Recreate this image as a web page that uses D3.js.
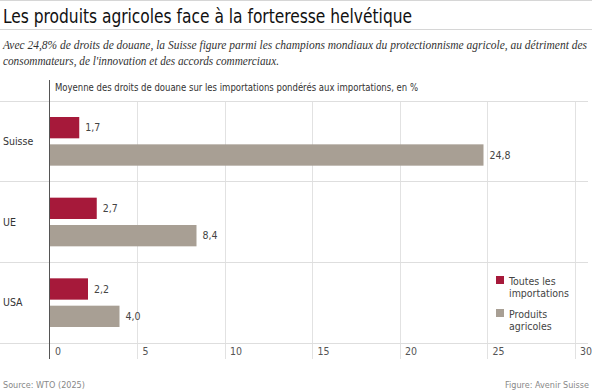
<!DOCTYPE html>
<html>
<head>
<meta charset="utf-8">
<script src="https://cdn.jsdelivr.net/npm/d3@7"></script>
<style>
  body { margin: 0; background: #fff; }
  svg { display: block; }
  .cond { font-family: 'Liberation Sans Narrow', 'DejaVu Sans Condensed', sans-serif; }
</style>
</head>
<body>
<svg id="chart" width="592" height="392"></svg>
<script>
// data
const countries = ["Suisse", "UE", "USA"];
const seriesNames = ["Toutes les importations", "Produits agricoles"];
const allImports = [1.7, 2.7, 2.2];
const agriProducts = [24.8, 8.4, 4.0];
const xTicks = [0, 5, 10, 15, 20, 25, 30];

const colors = ["#a6193a", "#a89f94"];

const svg = d3.select("#chart");
const width = 592, height = 392;

// header lines
svg.append("line").attr("x1", 0).attr("x2", width).attr("y1", 0.5).attr("y2", 0.5)
  .attr("stroke", "#d6d6d6");
svg.append("line").attr("x1", 0).attr("x2", width).attr("y1", 29.5).attr("y2", 29.5)
  .attr("stroke", "#d6d6d6");

svg.append("text").attr("class", "cond")
  .attr("x", 3).attr("y", 23)
  .attr("font-size", 20).attr("fill", "#111")
  .attr("textLength", 409).attr("lengthAdjust", "spacingAndGlyphs")
  .text("Les produits agricoles face à la forteresse helvétique");

const sub = svg.append("text")
  .attr("font-family", "'Liberation Serif', 'DejaVu Serif', serif")
  .attr("font-style", "italic").attr("font-size", 11.6).attr("fill", "#333");
sub.append("tspan").attr("x", 3).attr("y", 49)
  .attr("textLength", 584).attr("lengthAdjust", "spacingAndGlyphs")
  .text("Avec 24,8% de droits de douane, la Suisse figure parmi les champions mondiaux du protectionnisme agricole, au détriment des");
sub.append("tspan").attr("x", 3).attr("y", 65)
  .attr("textLength", 276).attr("lengthAdjust", "spacingAndGlyphs")
  .text("consommateurs, de l'innovation et des accords commerciaux.");

// scales
const x = d3.scaleLinear().domain([0, 30]).range([49.5, 574.5]);
const y = d3.scaleBand().domain(countries).range([101, 343]);
const ySub = d3.scaleBand().domain(seriesNames)
  .range([16, y.bandwidth() - 16]).paddingInner(0.22);

// gridlines
svg.append("g").selectAll("line").data(xTicks.slice(1)).join("line")
  .attr("x1", d => Math.round(x(d)) + 0.5).attr("x2", d => Math.round(x(d)) + 0.5)
  .attr("y1", 101).attr("y2", 359)
  .attr("stroke", "#e2e2e2");

// band separators
svg.append("g").selectAll("line").data([101, 181, 262, 343]).join("line")
  .attr("x1", 0).attr("x2", 588)
  .attr("y1", d => d + 0.5).attr("y2", d => d + 0.5)
  .attr("stroke", "#dedede");

// x axis labels
const xAxis = d3.axisBottom(x).tickValues(xTicks).tickSize(0).tickFormat(d3.format("d"));
const gx = svg.append("g").attr("transform", "translate(0,347)").call(xAxis);
gx.select(".domain").remove();
gx.selectAll("text")
  .attr("class", "cond")
  .attr("font-size", 10.5).attr("fill", "#555")
  .attr("text-anchor", "start").attr("dx", 5).attr("dy", "0.5em");

// bars
const rows = countries.map((c, i) => ({
  country: c,
  values: [
    { series: seriesNames[0], value: allImports[i] },
    { series: seriesNames[1], value: agriProducts[i] }
  ]
}));

const fmt = d => d3.format(".1f")(d).replace(".", ",");

const groups = svg.append("g").selectAll("g").data(rows).join("g")
  .attr("transform", d => `translate(0,${y(d.country)})`);

groups.selectAll("rect").data(d => d.values).join("rect")
  .attr("x", x(0))
  .attr("y", d => ySub(d.series))
  .attr("width", d => x(d.value) - x(0))
  .attr("height", ySub.bandwidth())
  .attr("fill", (d, i) => colors[i]);

groups.selectAll("text.val").data(d => d.values).join("text")
  .attr("class", "val cond")
  .attr("x", d => x(d.value) + 6)
  .attr("y", d => ySub(d.series) + ySub.bandwidth() / 2)
  .attr("dy", "0.35em")
  .attr("font-size", 10.5).attr("fill", "#444")
  .text(d => fmt(d.value));

groups.append("text").attr("class", "cond")
  .attr("x", 3).attr("y", y.bandwidth() / 2).attr("dy", "0.35em")
  .attr("font-size", 10.5).attr("fill", "#333")
  .text(d => d.country);

// zero axis line
svg.append("line").attr("x1", 49.5).attr("x2", 49.5).attr("y1", 80).attr("y2", 359)
  .attr("stroke", "#555");

svg.append("text").attr("class", "cond")
  .attr("x", 55).attr("y", 91)
  .attr("font-size", 10.5).attr("fill", "#333")
  .attr("textLength", 363).attr("lengthAdjust", "spacingAndGlyphs")
  .text("Moyenne des droits de douane sur les importations pondérés aux importations, en %");

// legend
const legendLines = [["Toutes les", "importations"], ["Produits", "agricoles"]];
const legend = svg.append("g").attr("transform", "translate(496,276)");
legendLines.forEach((lines, i) => {
  const g = legend.append("g").attr("transform", `translate(0,${i * 33})`);
  g.append("rect").attr("width", 8).attr("height", 8).attr("fill", colors[i]);
  const t = g.append("text").attr("class", "cond").attr("font-size", 10.5).attr("fill", "#444");
  lines.forEach((l, j) => t.append("tspan").attr("x", 13).attr("y", 8.5 + j * 12).text(l));
});

// footer
svg.append("text").attr("class", "cond")
  .attr("x", 3).attr("y", 388).attr("font-size", 9).attr("fill", "#888")
  .text("Source: WTO (2025)");
svg.append("text").attr("class", "cond")
  .attr("x", 589).attr("y", 388).attr("text-anchor", "end")
  .attr("font-size", 9).attr("fill", "#888")
  .text("Figure: Avenir Suisse");
</script>
</body>
</html>
